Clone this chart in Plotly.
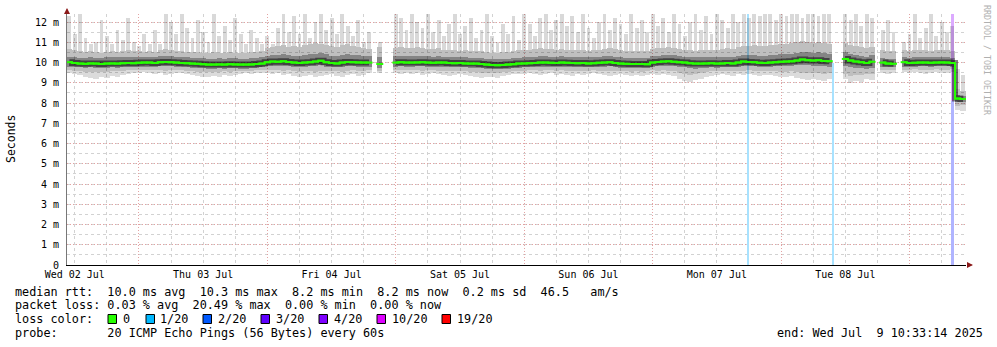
import numpy as np
import pandas as pd
import plotly.graph_objects as go

# ---------------- data (values in ms) ----------------
start_time = "2025-07-02 10:33:14"
end_time = "2025-07-09 10:33:14"
first_sample = "2025-07-02 11:00"
n_samples = 168

median_ms = [
    10.02, 9.98, 9.95, 9.94, 9.96, 9.95, 9.93, 9.95, 9.96, 9.95, 9.97, 9.98, 9.97,
    9.99, 10.0, 10.0, 9.98, 10.02, 10.03, 10.02, 10.0, 9.98, 9.97, 9.95, 9.94, 9.92, 9.9, 9.9, 9.91, 9.9, 9.92, 9.91, 9.9, 9.9, 9.91, 9.93, 9.95,
    10.02, 10.05, 10.04, 10.06, 10.03, 10.0, 9.98, 10.0, 10.02, 10.05, 10.09, 10.02, 9.98, 9.96, 10.0, 10.03, 10.02, 10.01, 10.0, 10.0, None, 9.93, None, None,
    10.0, 10.02, 10.0, 10.0, 10.01, 10.02, 10.0, 9.99, 10.0, 10.0, 9.98, 9.97, 9.98, 9.96, 9.95, 9.95, 9.93, 9.9, 9.88, 9.87, 9.88, 9.9, 9.92, 9.95,
    9.96, 9.97, 9.98, 10.0, 10.0, 9.99, 9.98, 10.0, 9.99, 9.98, 9.97, 9.98, 9.96, 9.97, 9.99, 10.0, 10.02, 9.98, 9.95, 9.94, 9.93, 9.93, 9.93, 9.92,
    10.0, 10.03, 10.05, 10.06, 10.04, 10.02, 10.0, 9.97, 9.95, 9.95, 9.96, 9.97, 9.95, 9.96, 9.98, 9.96, 10.0, 10.05, 10.03, 10.02, 9.99, 9.98, 10.0, 10.02,
    10.04, 10.05, 10.06, 10.1, 10.15, 10.12, 10.1, 10.12, 10.08, 10.07, None, None, 10.18, 10.1, 10.05, 10.02, 9.98, 10.04, None, 10.0, 9.95, 9.94, None, 10.02,
    9.98, 9.99, 10.0, 10.0, 9.99, 10.0, 10.01, 10.0, 9.98, 8.22, 8.2,
]

max_ms = [
    12.3, 11.4, 12.4, 11.2, 10.9, 11.0, 12.1, 11.3, 10.9, 11.6, 11.1, 12.2, 11.0,
    10.8, 11.4, 10.9, 11.6, 10.9, 12.4, 12.0, 11.4, 12.4, 11.7, 11.2, 12.1, 11.5, 11.0, 12.4, 11.3, 11.8, 11.1, 12.2, 11.4, 10.9, 11.6, 11.2, 10.9,
    11.3, 10.9, 11.7, 12.4, 11.5, 12.3, 11.4, 12.4, 11.2, 12.0, 12.4, 11.6, 12.2, 11.4, 12.4, 11.8, 11.3, 12.1, 11.0, 11.5, None, 11.0, None, None,
    12.4, 12.2, 11.6, 12.4, 12.0, 11.7, 12.4, 11.5, 12.1, 11.3, 11.9, 12.4, 11.4, 11.8, 12.2, 11.2, 11.6, 12.4, 11.3, 11.0, 11.9, 11.4, 12.3, 11.1,
    12.4, 11.9, 11.3, 12.2, 12.4, 11.6, 12.1, 12.4, 11.8, 12.3, 11.5, 12.4, 11.7, 11.2, 12.0, 12.4, 11.6, 12.2, 11.9, 11.4, 12.4, 11.7, 12.1, 11.5,
    12.4, 11.8, 12.2, 11.5, 12.4, 11.9, 11.3, 12.0, 12.4, 11.6, 12.3, 11.4, 12.4, 12.1, 11.7, 12.4, 12.0, 12.4, 12.2, 12.4, 12.3, 12.4, 12.4, 12.1,
    12.4, 12.3, 12.4, 12.4, 12.2, 12.4, 12.4, 12.3, 12.4, 12.4, None, None, 12.4, 12.1, 12.4, 11.8, 12.4, 12.2, None, 11.6, 12.1, 11.5, None, 11.0,
    11.4, 12.4, 11.2, 11.7, 12.4, 11.3, 12.0, 11.5, 11.8, 9.7, 9.4,
]

min_ms = [
    9.5, 9.45, 9.4, 9.3, 9.25, 9.2, 9.3, 9.25, 9.35, 9.3, 9.4, 9.45, 9.5,
    9.5, 9.55, 9.5, 9.45, 9.5, 9.4, 9.45, 9.5, 9.5, 9.45, 9.4, 9.35, 9.3, 9.3, 9.35, 9.3, 9.4, 9.35, 9.4, 9.45, 9.5, 9.45, 9.5, 9.5,
    9.5, 9.45, 9.5, 9.4, 9.45, 9.35, 9.3, 9.35, 9.4, 9.3, 9.35, 9.4, 9.45, 9.35, 9.3, 9.4, 9.45, 9.35, 9.4, 9.5, None, 9.5, None, None,
    9.5, 9.45, 9.5, 9.45, 9.5, 9.4, 9.45, 9.5, 9.45, 9.4, 9.35, 9.4, 9.45, 9.4, 9.35, 9.3, 9.25, 9.3, 9.3, 9.25, 9.35, 9.4, 9.45, 9.45,
    9.45, 9.5, 9.45, 9.4, 9.45, 9.5, 9.4, 9.45, 9.4, 9.35, 9.45, 9.4, 9.45, 9.5, 9.45, 9.4, 9.35, 9.4, 9.45, 9.4, 9.35, 9.4, 9.35, 9.4,
    9.45, 9.4, 9.45, 9.4, 9.35, 9.2, 9.1, 9.05, 9.15, 9.2, 9.3, 9.35, 9.4, 9.45, 9.4, 9.35, 9.45, 9.4, 9.45, 9.4, 9.35, 9.4, 9.4, 9.35,
    9.3, 9.3, 9.35, 9.25, 9.2, 9.15, 9.2, 9.15, 9.1, 9.2, None, None, 9.2, 9.0, 9.1, 9.05, 9.2, 9.15, None, 9.5, 9.45, 9.5, None, 9.55,
    9.5, 9.55, 9.5, 9.45, 9.5, 9.55, 9.5, 9.5, 9.55, 7.65, 7.6,
]

p10_ms = [
    9.62, 9.6, 9.58, 9.55, 9.55, 9.52, 9.55, 9.55, 9.58, 9.56, 9.6, 9.62, 9.62,
    9.63, 9.65, 9.63, 9.62, 9.65, 9.6, 9.62, 9.63, 9.62, 9.6, 9.58, 9.55, 9.55, 9.53, 9.55, 9.55, 9.57, 9.55, 9.56, 9.58, 9.6, 9.6, 9.62, 9.62,
    9.63, 9.62, 9.63, 9.6, 9.62, 9.58, 9.55, 9.58, 9.6, 9.55, 9.58, 9.6, 9.6, 9.57, 9.55, 9.6, 9.62, 9.58, 9.6, 9.62, None, 9.6, None, None,
    9.63, 9.62, 9.63, 9.62, 9.63, 9.6, 9.62, 9.62, 9.6, 9.6, 9.58, 9.6, 9.6, 9.58, 9.55, 9.53, 9.5, 9.5, 9.5, 9.48, 9.52, 9.55, 9.58, 9.6,
    9.6, 9.62, 9.62, 9.6, 9.62, 9.63, 9.6, 9.62, 9.6, 9.58, 9.6, 9.6, 9.6, 9.62, 9.6, 9.6, 9.58, 9.58, 9.6, 9.58, 9.55, 9.57, 9.55, 9.56,
    9.62, 9.6, 9.62, 9.6, 9.58, 9.5, 9.42, 9.4, 9.45, 9.5, 9.55, 9.57, 9.58, 9.6, 9.58, 9.57, 9.6, 9.6, 9.62, 9.6, 9.57, 9.58, 9.58, 9.57,
    9.55, 9.55, 9.56, 9.52, 9.5, 9.48, 9.5, 9.47, 9.45, 9.5, None, None, 9.45, 9.35, 9.4, 9.38, 9.45, 9.42, None, 9.65, 9.62, 9.63, None, 9.65,
    9.65, 9.67, 9.65, 9.63, 9.65, 9.67, 9.65, 9.65, 9.66, 7.85, 7.9,
]

p25_ms = [
    9.8, 9.78, 9.76, 9.75, 9.76, 9.74, 9.73, 9.75, 9.76, 9.75, 9.77, 9.78, 9.78,
    9.8, 9.8, 9.8, 9.78, 9.82, 9.82, 9.81, 9.8, 9.78, 9.77, 9.75, 9.74, 9.72, 9.7, 9.7, 9.71, 9.7, 9.72, 9.71, 9.7, 9.7, 9.72, 9.74, 9.76,
    9.82, 9.84, 9.83, 9.85, 9.83, 9.8, 9.78, 9.8, 9.81, 9.83, 9.86, 9.8, 9.77, 9.76, 9.8, 9.82, 9.81, 9.8, 9.8, 9.8, None, 9.74, None, None,
    9.8, 9.82, 9.8, 9.8, 9.81, 9.82, 9.8, 9.79, 9.8, 9.8, 9.78, 9.77, 9.78, 9.76, 9.75, 9.75, 9.73, 9.7, 9.68, 9.67, 9.68, 9.7, 9.72, 9.75,
    9.77, 9.78, 9.79, 9.8, 9.8, 9.79, 9.78, 9.8, 9.79, 9.78, 9.77, 9.78, 9.76, 9.77, 9.79, 9.8, 9.81, 9.78, 9.75, 9.74, 9.73, 9.73, 9.73, 9.72,
    9.8, 9.82, 9.84, 9.85, 9.83, 9.8, 9.76, 9.72, 9.7, 9.72, 9.75, 9.77, 9.75, 9.76, 9.78, 9.76, 9.8, 9.84, 9.82, 9.82, 9.79, 9.78, 9.8, 9.81,
    9.82, 9.83, 9.84, 9.86, 9.88, 9.86, 9.84, 9.85, 9.82, 9.8, None, None, 9.85, 9.78, 9.75, 9.72, 9.7, 9.75, None, 9.8, 9.77, 9.76, None, 9.8,
    9.8, 9.8, 9.81, 9.81, 9.8, 9.81, 9.82, 9.81, 9.8, 8.05, 8.05,
]

p75_ms = [
    10.3, 10.28, 10.25, 10.25, 10.27, 10.25, 10.24, 10.26, 10.27, 10.26, 10.28, 10.3, 10.28,
    10.3, 10.3, 10.3, 10.28, 10.32, 10.34, 10.32, 10.3, 10.28, 10.27, 10.25, 10.25, 10.23, 10.2, 10.2, 10.22, 10.2, 10.23, 10.22, 10.2, 10.2, 10.22, 10.24, 10.26,
    10.35, 10.38, 10.37, 10.4, 10.36, 10.35, 10.33, 10.36, 10.4, 10.42, 10.45, 10.4, 10.35, 10.33, 10.37, 10.4, 10.38, 10.36, 10.34, 10.33, None, 10.3, None, None,
    10.32, 10.34, 10.32, 10.32, 10.33, 10.34, 10.32, 10.3, 10.31, 10.3, 10.28, 10.27, 10.28, 10.26, 10.25, 10.25, 10.23, 10.2, 10.18, 10.17, 10.18, 10.2, 10.22, 10.25,
    10.27, 10.28, 10.3, 10.32, 10.32, 10.3, 10.29, 10.31, 10.3, 10.29, 10.28, 10.29, 10.27, 10.28, 10.3, 10.32, 10.34, 10.3, 10.26, 10.25, 10.24, 10.24, 10.24, 10.23,
    10.32, 10.35, 10.37, 10.38, 10.36, 10.33, 10.3, 10.28, 10.26, 10.26, 10.27, 10.28, 10.27, 10.28, 10.3, 10.29, 10.33, 10.38, 10.37, 10.36, 10.34, 10.34, 10.36, 10.38,
    10.4, 10.42, 10.43, 10.47, 10.52, 10.5, 10.47, 10.5, 10.45, 10.43, None, None, 10.5, 10.42, 10.38, 10.34, 10.3, 10.36, None, 10.25, 10.2, 10.2, None, 10.28,
    10.25, 10.26, 10.27, 10.27, 10.26, 10.27, 10.28, 10.27, 10.25, 8.4, 8.35,
]

p90_ms = [
    10.65, 10.6, 10.55, 10.5, 10.55, 10.5, 10.48, 10.52, 10.55, 10.5, 10.55, 10.6, 10.55,
    10.55, 10.5, 10.55, 10.5, 10.6, 10.65, 10.6, 10.55, 10.55, 10.5, 10.5, 10.52, 10.48, 10.45, 10.5, 10.48, 10.45, 10.5, 10.48, 10.45, 10.45, 10.5, 10.52, 10.55,
    10.7, 10.75, 10.8, 10.85, 10.78, 10.8, 10.75, 10.85, 10.9, 10.95, 10.9, 10.85, 10.8, 10.75, 10.85, 10.9, 10.8, 10.75, 10.7, 10.65, None, 10.75, None, None,
    10.7, 10.75, 10.7, 10.72, 10.75, 10.7, 10.68, 10.65, 10.7, 10.62, 10.6, 10.62, 10.58, 10.6, 10.55, 10.58, 10.55, 10.5, 10.48, 10.45, 10.5, 10.52, 10.55, 10.6,
    10.6, 10.62, 10.65, 10.7, 10.68, 10.65, 10.62, 10.65, 10.62, 10.6, 10.6, 10.62, 10.58, 10.6, 10.62, 10.65, 10.7, 10.65, 10.6, 10.58, 10.55, 10.55, 10.56, 10.55,
    10.65, 10.7, 10.72, 10.75, 10.7, 10.68, 10.62, 10.6, 10.58, 10.6, 10.62, 10.64, 10.62, 10.65, 10.7, 10.68, 10.75, 10.82, 10.8, 10.85, 10.8, 10.82, 10.85, 10.88,
    10.9, 10.92, 10.95, 11.0, 11.05, 11.0, 10.98, 11.02, 10.95, 10.92, None, None, 10.95, 10.85, 10.8, 10.75, 10.7, 10.78, None, 10.6, 10.55, 10.55, None, 10.6,
    10.58, 10.6, 10.62, 10.6, 10.58, 10.6, 10.62, 10.6, 10.58, 8.7, 8.6,
]

# loss background markers
loss_times = ["2025-07-07 17:49", "2025-07-08 09:40", "2025-07-09 08:07", "2025-07-09 08:07"]
loss_base = [0, 0, 0, 8.1]
loss_top = [12.4, 10.0, 8.1, 12.4]
loss_colors = ["#a8e2ff", "#a8e2ff", "#b0b4ff", "#dcaaff"]
loss_width_ms = [700000, 700000, 1300000, 1300000]

y_tickvals = [0, 1, 2, 3, 4, 5, 6, 7, 8, 9, 10, 11, 12]
y_ticktext = ["0", "1 m", "2 m", "3 m", "4 m", "5 m", "6 m", "7 m", "8 m", "9 m", "10 m", "11 m", "12 m"]

legend_labels = ["0", "1/20", "2/20", "3/20", "4/20", "10/20", "19/20"]
legend_colors = ["#26ff00", "#00b8ff", "#0059ff", "#5e00ff", "#7e00ff", "#dd00ff", "#ff0000"]

line_rtt = "median rtt:  10.0 ms avg  10.3 ms max  8.2 ms min  8.2 ms now  0.2 ms sd  46.5   am/s"
line_loss = "packet loss: 0.03 % avg  20.49 % max  0.00 % min  0.00 % now"
line_color = "loss color:"
line_probe = "probe:       20 ICMP Echo Pings (56 Bytes) every 60s"
line_end = "end: Wed Jul  9 10:33:14 2025"

# ---------------- geometry helpers ----------------
W, H = 997, 347
PL, PR, PT, PB = 67, 966, 14, 265


def px(x):
    return (x - PL) / (PR - PL)


def py(y):
    return (PB - y) / (PB - PT)


def arr(v):
    return np.array([np.nan if a is None else a for a in v], dtype=float)


def nb(s):
    return s.replace(" ", "\u00a0")


MONO = "DejaVu Sans Mono"
times = pd.date_range(first_sample, periods=n_samples, freq="h")
HOUR = 3600000

fig = go.Figure()

# loss background lines (behind smoke)
for t, b, top, c, w in zip(loss_times, loss_base, loss_top, loss_colors, loss_width_ms):
    fig.add_trace(go.Bar(x=[t], y=[top - b], base=[b], width=[w],
                         marker=dict(color=c, line=dict(width=0)), hoverinfo="skip"))

mn, mx = arr(min_ms), arr(max_ms)
p10, p25, p75, p90 = arr(p10_ms), arr(p25_ms), arr(p75_ms), arr(p90_ms)
med = arr(median_ms)

# smoke: outer light (lower part full width, upper part spikes)
fig.add_trace(go.Bar(x=times, y=p10 - mn, base=mn, width=HOUR,
                     marker=dict(color="rgba(0,0,0,0.14)", line=dict(width=0)), hoverinfo="skip"))
fig.add_trace(go.Bar(x=times, y=mx - p90, base=p90, width=0.72 * HOUR,
                     marker=dict(color="rgba(0,0,0,0.15)", line=dict(width=0)), hoverinfo="skip"))
# middle band
fig.add_trace(go.Bar(x=times, y=p90 - p10, base=p10, width=HOUR,
                     marker=dict(color="rgba(0,0,0,0.25)", line=dict(width=0)), hoverinfo="skip"))
# inner band
fig.add_trace(go.Bar(x=times, y=p75 - p25, base=p25, width=HOUR,
                     marker=dict(color="rgba(0,0,0,0.3)", line=dict(width=0)), hoverinfo="skip"))

# dark core + median line
fig.add_trace(go.Scatter(x=times, y=med, mode="lines", line=dict(color="rgba(0,0,0,0.5)", width=6, shape="hvh"),
                         connectgaps=False, hoverinfo="skip"))
fig.add_trace(go.Scatter(
    x=times, y=med, mode="lines+markers", line=dict(color="#26ff00", width=2, shape="hvh"),
    marker=dict(symbol="line-ew", size=5, line=dict(color="#26ff00", width=2)),
    connectgaps=False, hoverinfo="skip"))

grid_major = "#e3a3a3"
grid_minor = "#d2d2d2"
dash = "1px,2px"

fig.update_layout(
    width=W, height=H,
    margin=dict(l=PL, r=W - PR, t=PT, b=H - PB, autoexpand=False),
    paper_bgcolor="white", plot_bgcolor="white",
    showlegend=False, barmode="overlay", bargap=0,
    font=dict(family=MONO, size=10, color="black"),
    xaxis=dict(
        type="date", range=[start_time, end_time],
        tick0="2025-07-03", dtick=86400000, tickformat="%a %d %b", ticklabelmode="period",
        showgrid=True, gridcolor=grid_major, griddash=dash, gridwidth=1,
        ticks="", showline=True, linecolor="black", linewidth=1, zeroline=False,
        tickfont=dict(family=MONO, size=10, color="black"),
        minor=dict(tick0="2025-07-03", dtick=21600000, showgrid=True, gridcolor=grid_minor,
                   griddash="dot", gridwidth=1),
        automargin=False, fixedrange=True,
    ),
    yaxis=dict(
        range=[0, 12.4], tickmode="array", tickvals=y_tickvals, ticktext=y_ticktext,
        showgrid=True, gridcolor=grid_major, griddash=dash, gridwidth=1,
        ticks="", ticklabelstandoff=5,
        showline=True, linecolor="#777777", linewidth=1, zeroline=False,
        tickfont=dict(family=MONO, size=10, color="black"),
        minor=dict(tick0=0, dtick=0.5, showgrid=True, gridcolor=grid_minor,
                   griddash="dot", gridwidth=1),
        automargin=False, fixedrange=True,
    ),
)

ann = []
txt_font = dict(family=MONO, size=11.8, color="black")

# y title
ann.append(dict(x=px(11), y=py(139), xref="paper", yref="paper", text="Seconds", textangle=-90,
                showarrow=False, font=dict(family=MONO, size=11.5, color="black"),
                xanchor="center", yanchor="middle"))
# watermark
ann.append(dict(x=px(987), y=py(60), xref="paper", yref="paper", text=nb("RRDTOOL / TOBI OETIKER"),
                textangle=90, showarrow=False, font=dict(family=MONO, size=8.3, color="#b0b0b0"),
                xanchor="center", yanchor="middle"))
# axis arrows
ann.append(dict(x=px(973), y=0, xref="paper", yref="paper", ax=-7, ay=0, text="", showarrow=True,
                arrowhead=2, arrowsize=1, arrowwidth=1.2, arrowcolor="#8b1a1a"))
ann.append(dict(x=0, y=py(8), xref="paper", yref="paper", ax=0, ay=7, text="", showarrow=True,
                arrowhead=2, arrowsize=1, arrowwidth=1.2, arrowcolor="#8b1a1a"))

# bottom text lines
for text, yc in [(line_rtt, 291.5), (line_loss, 305), (line_color, 319), (line_probe, 332.7)]:
    ann.append(dict(x=px(13), y=py(yc), xref="paper", yref="paper", text=nb(text), showarrow=False,
                    font=txt_font, xanchor="left", yanchor="middle"))
ann.append(dict(x=px(775), y=py(332.7), xref="paper", yref="paper", text=nb(line_end), showarrow=False,
                font=txt_font, xanchor="left", yanchor="middle"))

# loss color swatches
sw_left = [108, 146, 203, 261, 319, 377, 442]
lab_left = [121, 158, 216, 274, 332, 390, 455]
shapes = []
for lab, col, sx, lx in zip(legend_labels, legend_colors, sw_left, lab_left):
    shapes.append(dict(type="rect", xref="paper", yref="paper", x0=px(sx), x1=px(sx + 8.5),
                       y0=py(323.5), y1=py(314.5), fillcolor=col, line=dict(color="black", width=1)))
    ann.append(dict(x=px(lx), y=py(319), xref="paper", yref="paper", text=nb(lab), showarrow=False,
                    font=txt_font, xanchor="left", yanchor="middle"))

fig.update_layout(annotations=ann, shapes=shapes)

fig.write_html("out.html")
